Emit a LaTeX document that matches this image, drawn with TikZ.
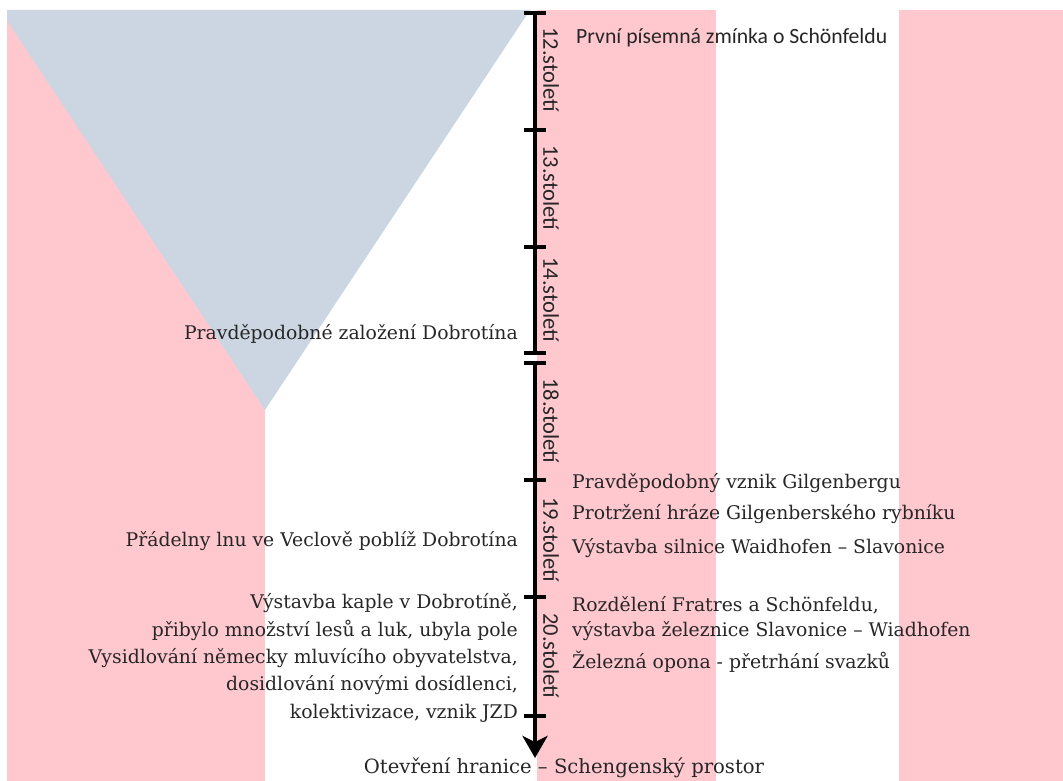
\documentclass[tikz,border=0pt]{standalone}
\usepackage{fontspec}
\setmainfont{DejaVu Serif}
\newfontfamily\calib{Carlito}
\usetikzlibrary{arrows.meta}
\definecolor{pinkbg}{HTML}{FFC7CE}
\definecolor{bluetri}{HTML}{CCD6E2}
\definecolor{txt}{HTML}{262626}
\tikzset{
  ev/.style={font=\fontsize{18.8}{22}\selectfont, text=txt, inner sep=0pt},
  evR/.style={ev, anchor=west},
  evL/.style={ev, anchor=east},
  cent/.style={font=\calib\fontsize{22.5}{24}\selectfont, text=txt, rotate=-90, inner sep=0pt},
  axisln/.style={line width=4pt, black},
  tickln/.style={line width=4pt, black},
}
\begin{document}
\begin{tikzpicture}[x=1pt,y=-1pt]
\useasboundingbox (0,0) rectangle (1063,781);
% background bands
\fill[pinkbg] (7,10) rectangle (265,781);
\fill[pinkbg] (537,10) rectangle (716,781);
\fill[pinkbg] (899,10) rectangle (1063,781);
\fill[bluetri] (7,10) -- (530,10) -- (265,410) -- (7,20.6) -- cycle;
% axis coordinates
\coordinate (t1) at (535,13);
\coordinate (t2) at (535,130);
\coordinate (t3) at (535,247);
\coordinate (t4) at (535,353);
\coordinate (t5) at (535,363);
\coordinate (t6) at (535,480);
\coordinate (t7) at (535,597);
\coordinate (t8) at (535,716);
\coordinate (tip) at (535,758);
\draw[axisln] (t1) -- (t4);
\draw[axisln, -{Stealth[length=22pt,width=25pt,inset=6pt]}] (t5) -- (tip);
\foreach \t in {t1,t2,t3,t4,t5,t6,t7,t8}{
  \draw[tickln] ([xshift=-11pt]\t) -- ([xshift=11pt]\t);
}
% century labels
\node[cent] (c12) at (551,70) {12.století};
\node[cent] (c13) at (551,188) {13.století};
\node[cent] (c14) at (551,300) {14.století};
\node[cent] (c18) at (551,421) {18.století};
\node[cent] (c19) at (551,540) {19.století};
\node[cent] (c20) at (551,656) {20.století};
% right events
\node[anchor=west, inner sep=0pt, text=txt, font=\calib\fontsize{21.7}{24}\selectfont] (e1) at (576,38) {První písemná zmínka o Schönfeldu};
\node[evR] (e2) at (572,483) {Pravděpodobný vznik Gilgenbergu};
\node[evR] (e3) at (572,514) {Protržení hráze Gilgenberského rybníku};
\node[evR] (e4) at (572,548) {Výstavba silnice Waidhofen – Slavonice};
\node[evR] (e5) at (572,605) {Rozdělení Fratres a Schönfeldu,};
\node[evR] (e6) at (572,631) {výstavba železnice Slavonice – Wiadhofen};
\node[evR] (e7) at (572,662) {Železná opona - přetrhání svazků};
% left events
\node[evL] (l1) at (518,334) {Pravděpodobné založení Dobrotína};
\node[evL] (l2) at (518,541) {Přádelny lnu ve Veclově poblíž Dobrotína};
\node[evL] (l3) at (518,603) {Výstavba kaple v Dobrotíně,};
\node[evL] (l4) at (518,630) {přibylo množství lesů a luk, ubyla pole};
\node[evL] (l5) at (518,658) {Vysidlování německy mluvícího obyvatelstva,};
\node[evL] (l6) at (518,685) {dosidlování novými dosídlenci,};
\node[evL] (l7) at (518,713) {kolektivizace, vznik JZD};
% bottom
\node[ev, font=\fontsize{19.6}{22}\selectfont] (b1) at (564,768) {Otevření hranice – Schengenský prostor};
\end{tikzpicture}
\end{document}
